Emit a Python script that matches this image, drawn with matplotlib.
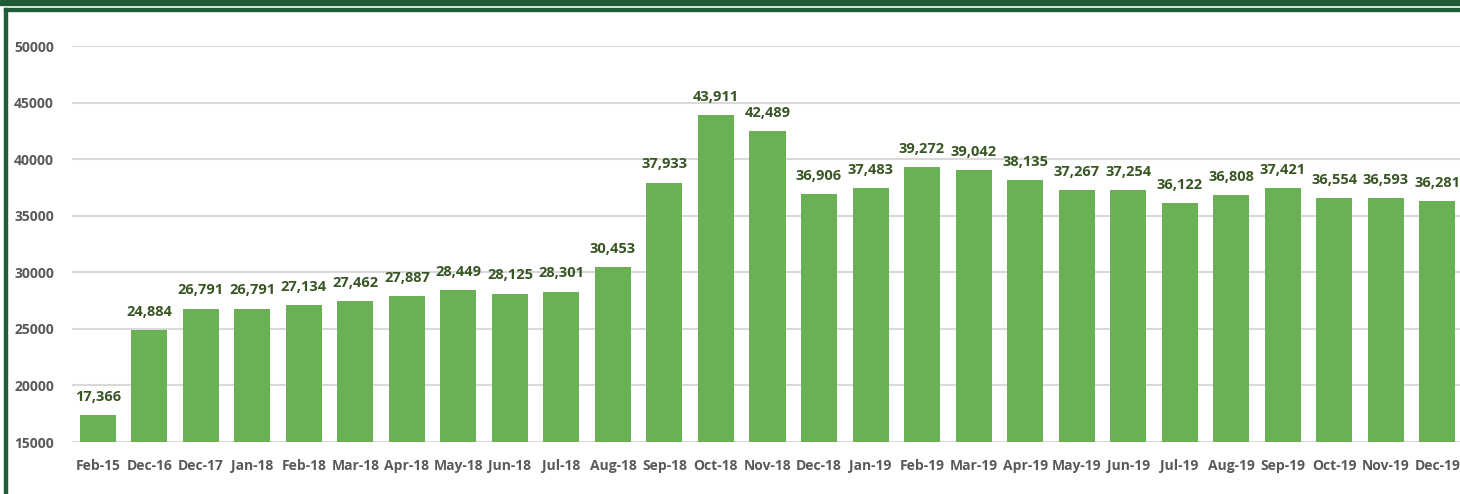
import matplotlib.pyplot as plt
from matplotlib.patches import Rectangle

months = ["Feb-15", "Dec-16", "Dec-17", "Jan-18", "Feb-18", "Mar-18", "Apr-18",
          "May-18", "Jun-18", "Jul-18", "Aug-18", "Sep-18", "Oct-18", "Nov-18",
          "Dec-18", "Jan-19", "Feb-19", "Mar-19", "Apr-19", "May-19", "Jun-19",
          "Jul-19", "Aug-19", "Sep-19", "Oct-19", "Nov-19", "Dec-19"]
values = [17366, 24884, 26791, 26791, 27134, 27462, 27887, 28449, 28125, 28301,
          30453, 37933, 43911, 42489, 36906, 37483, 39272, 39042, 38135, 37267,
          37254, 36122, 36808, 37421, 36554, 36593, 36281]
yticks = [15000, 20000, 25000, 30000, 35000, 40000, 45000, 50000]

plt.rcParams['font.family'] = ['Open Sans', 'DejaVu Sans']

W, H = 1460, 494
fig = plt.figure(figsize=(W / 100, H / 100), dpi=100)

# frame: dark band on top, thin line below it, left edge
dark = '#1e5b37'
fig.patches.append(Rectangle((0, 1 - 5 / H), 1, 5 / H, transform=fig.transFigure,
                             color=dark, zorder=0))
fig.patches.append(Rectangle((4 / W, 1 - 11 / H), 1, 3 / H, transform=fig.transFigure,
                             color=dark, zorder=0))
fig.patches.append(Rectangle((4 / W, 0), 3 / W, 1 - 8 / H, transform=fig.transFigure,
                             color=dark, zorder=0))

ax = fig.add_axes([72 / W, 52 / H, (1463 - 72) / W, (442 - 46) / H])
x = range(len(months))
bars = ax.bar(x, values, width=0.7, color='#6ab155', zorder=2)
ax.set_xlim(-0.5, len(months) - 0.5)
ax.set_ylim(15000, 50000)
ax.set_yticks(yticks)
ax.set_yticklabels([str(v) for v in yticks])
ax.set_xticks(list(x))
ax.set_xticklabels(months)
ax.grid(axis='y', color='#d9d9d9', linewidth=1.5, zorder=0)
ax.tick_params(axis='both', length=0, labelsize=10, labelcolor='#595959')
ax.tick_params(axis='y', pad=13)
ax.tick_params(axis='x', pad=12)
for lbl in ax.get_xticklabels() + ax.get_yticklabels():
    lbl.set_fontweight('bold')
for s in ax.spines.values():
    s.set_visible(False)

for b, v in zip(bars, values):
    ax.annotate(f"{v:,}", (b.get_x() + b.get_width() / 2, v), xytext=(0, 8),
                textcoords='offset points', ha='center', va='bottom',
                fontsize=10.5, fontweight='bold', color='#375623')

fig.savefig('out.png', dpi=100)
